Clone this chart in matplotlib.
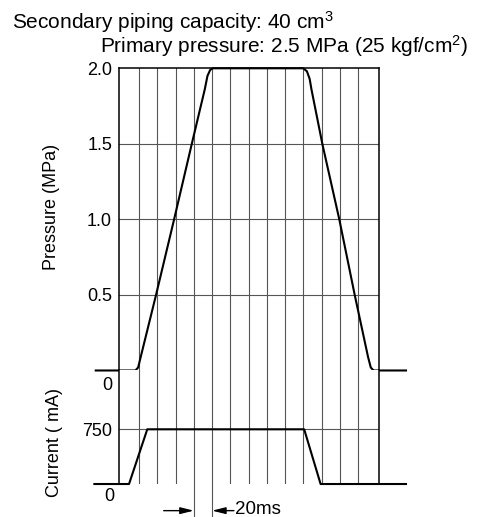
import matplotlib
matplotlib.use('Agg')
import matplotlib.pyplot as plt

plt.rcParams['font.family'] = ['Liberation Sans', 'DejaVu Sans']
plt.rcParams['mathtext.fontset'] = 'custom'
plt.rcParams['mathtext.rm'] = 'Liberation Sans'
plt.rcParams['mathtext.it'] = 'Liberation Sans:italic'
plt.rcParams['mathtext.bf'] = 'Liberation Sans:bold'

# pressure trace (time ms, MPa)
p_time = [-27.5, 16, 19, 21, 38.6, 58.4, 77.8, 92, 95, 98, 101,
          200, 204, 207, 209, 220.9, 239.5, 256.4, 271, 274, 277, 312.6]
p_val = [0, 0, 0.02, 0.07, 0.5, 1.0, 1.5, 1.86, 1.95, 1.99, 2.0,
         2.0, 1.98, 1.93, 1.86, 1.5, 1.0, 0.5, 0.09, 0.02, 0, 0]

# current trace (time ms, mA)
c_time = [-29, 9, 29, 201, 219, 312.6]
c_val = [0, 0, 750, 750, 0, 0]

grid_times = list(range(20, 261, 20))
p_ticks = [0.5, 1.0, 1.5, 2.0]
p_ticklabels = ['0.5', '1.0', '1.5', '2.0']
c_ticks = [750]
c_ticklabels = ['750']

title1 = r'Secondary piping capacity: 40 cm$^{\mathrm{3}}$'
title2 = r'Primary pressure: 2.5 MPa (25 kgf/cm$^{\mathrm{2}}$)'

fig = plt.figure(figsize=(4.81, 5.17), dpi=100)
ax1 = fig.add_axes([0.2474, 0.2834, 0.5405, 0.5845])
ax2 = fig.add_axes([0.2474, 0.0638, 0.5405, 0.2196])

grid_kw = dict(color='#555555', lw=0.8, zorder=1)
for ax in (ax1, ax2):
    ax.set_xlim(-2, 283)
    for t in grid_times:
        ax.axvline(t, **grid_kw)
    ax.set_xticks([])
    ax.tick_params(axis='y', length=0, pad=5, labelsize=13)
    for s in ax.spines.values():
        s.set_linewidth(1.1)

ax1.set_ylim(0, 2.0)
ax1.set_yticks(p_ticks, p_ticklabels)
for v in p_ticks[:-1]:
    ax1.axhline(v, **grid_kw)
ax1.spines['bottom'].set_visible(False)
ax1.plot(p_time, p_val, color='black', lw=1.5, clip_on=False, zorder=5,
         solid_joinstyle='round')
ax1.set_ylabel('Pressure (MPa)', fontsize=13)
ax1.yaxis.set_label_coords(-0.227, 0.541)
ax1.annotate('0', xy=(0, 0), xycoords=('axes fraction', 'data'),
             xytext=(-8.3, -11), textcoords='offset points',
             ha='center', va='center', fontsize=13, annotation_clip=False)

ax2.set_ylim(0, 1556)
ax2.set_yticks(c_ticks, c_ticklabels)
for v in c_ticks:
    ax2.axhline(v, **grid_kw)
ax2.spines['top'].set_visible(False)
ax2.spines['bottom'].set_visible(False)
ax2.plot(c_time, c_val, color='black', lw=1.5, clip_on=False, zorder=5)
ax2.set_ylabel('Current ( mA)', fontsize=13)
ax2.yaxis.set_label_coords(-0.215, 0.37)
ax2.annotate('0', xy=(0, 0), xycoords=('axes fraction', 'data'),
             xytext=(-7, -9), textcoords='offset points',
             ha='center', va='center', fontsize=13, annotation_clip=False)

# 20 ms dimension
for t in (80, 100):
    ax2.plot([t, t], [0, -460], color='#555555', lw=0.8, clip_on=False)
arr = dict(arrowstyle='-|>,head_length=0.8,head_width=0.2', color='black',
           lw=1.0, shrinkA=0, shrinkB=0)
ax2.annotate('', xy=(80, -365), xytext=(47, -365), arrowprops=arr,
             annotation_clip=False)
ax2.annotate('', xy=(100, -365), xytext=(124, -365), arrowprops=arr,
             annotation_clip=False)
ax2.text(125, -355, '20ms', ha='left', va='center', fontsize=13.5)

fig.text(12 / 481, 1 - 29 / 517, title1, ha='left', va='baseline', fontsize=15)
fig.text(100 / 481, 1 - 52.5 / 517, title2, ha='left', va='baseline', fontsize=15)

fig.savefig('out.png', dpi=100)
